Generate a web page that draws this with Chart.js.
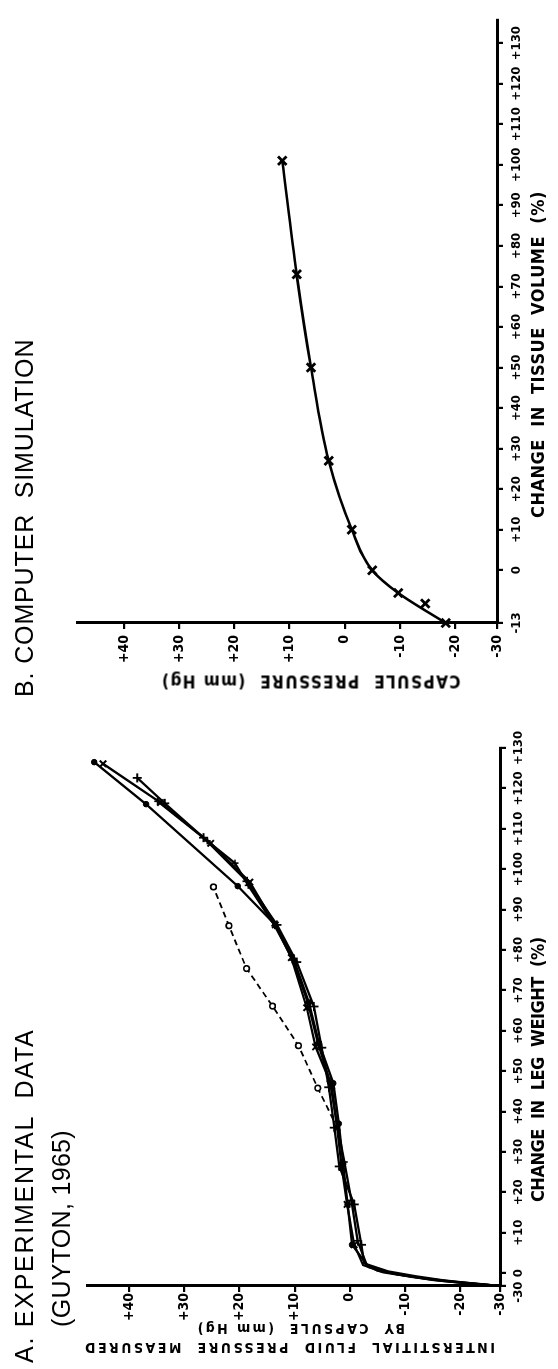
<!DOCTYPE html>
<html>
<head>
<meta charset="utf-8">
<script src="https://cdn.jsdelivr.net/npm/chart.js@4.4.1/dist/chart.umd.min.js"></script>
<style>
  html, body { margin: 0; padding: 0; background: #fff; overflow: hidden; width: 558px; height: 1369px; }
  #land { position: absolute; left: 0; top: 0; width: 1369px; height: 558px;
          transform-origin: 0 0; transform: translateY(1369px) rotate(-90deg); background: #fff; }
  #land canvas { position: absolute; top: 0; }
  .t { position: absolute; white-space: pre; color: #000; }
</style>
</head>
<body>
<div id="land">
  <canvas id="cA" width="690" height="558" style="left:0px;width:690px;height:558px"></canvas>
  <canvas id="cB" width="679" height="558" style="left:690px;width:679px;height:558px"></canvas>
</div>
<script>
// ---------------- text ----------------
const titleA = ['A. EXPERIMENTAL  DATA', '(GUYTON, 1965)'];
const titleB = 'B. COMPUTER  SIMULATION';
const xTitleA = 'CHANGE  IN  LEG  WEIGHT  (%)';
const yTitleA = ['INTERSTITIAL  FLUID  PRESSURE  MEASURED', 'BY  CAPSULE  (mm Hg)'];
const xTitleB = 'CHANGE  IN  TISSUE  VOLUME  (%)';
const yTitleB = 'CAPSULE  PRESSURE  (mm Hg)';

// ---------------- panel A axes (broken at origin: origin tick labelled -30) ----------------
const aXTicks = [-3.2, 0, 10, 20, 30, 40, 50, 60, 70, 80, 90, 100, 110, 120, 130];
const aXLabels = ['-30   ', '0', '+10', '+20', '+30', '+40', '+50', '+60', '+70', '+80', '+90', '+100', '+110', '+120', '+130'];
const aYTicks = [-27.2, -20, -10, 0, 10, 20, 30, 40];
const aYLabels = ['-30', '-20', '-10', '0', '+10', '+20', '+30', '+40'];

// ---------------- panel A data: change in leg weight (%) vs pressure (mm Hg) ----------------
const aCrossV = [-3.2, -2.6, -1.9, -1.0, 0.2, 2.0, 7, 17, 26.4, 36, 46.4, 56, 65.7, 78.1, 86.2, 96.8, 106.4, 116.5, 126.1];
const aCrossP = [-27.2, -22.0, -16.5, -11.5, -6.0, -2.4, -0.8, 0.5, 1.5, 2.3, 3.3, 6.2, 7.8, 10.6, 13.5, 18.1, 25.2, 34.3, 44.7];
const aDotV = [-3.2, -2.7, -2.1, -1.3, -0.3, 1.5, 7, 17, 27, 37, 47, 57, 67, 77, 86.2, 95.8, 116.1, 126.5];
const aDotP = [-27.2, -23.5, -18.5, -13.5, -8.5, -3.4, -0.4, 0.4, 1.2, 2.0, 3.0, 5.6, 7.4, 10.0, 13.5, 20.3, 36.9, 46.3];
const aPlusV = [-3.2, -2.5, -1.7, -0.6, 0.6, 2.5, 7, 17, 26.4, 36, 46, 55.8, 66, 77, 86.2, 97, 107.8, 116.3, 122.6];
const aPlusP = [-27.2, -21.0, -15.0, -10.0, -5.0, -2.6, -2.1, -0.8, 1.9, 2.8, 3.8, 5.1, 6.5, 9.6, 13.2, 18.6, 26.5, 33.5, 38.5];
const aTickV = [-3.2, -2.6, -1.8, -0.8, 0.4, 2.2, 8, 18, 27.5, 37.5, 47.5, 57, 67, 77.5, 86, 96, 101.5, 107, 116.8];
const aTickP = [-27.2, -22.5, -17.0, -12.0, -7.0, -3.0, -1.4, -0.3, 1.0, 2.4, 3.6, 5.8, 7.6, 10.3, 13.6, 18.4, 20.8, 25.8, 34.8];
const aDashV = [38, 45.8, 56.3, 66.1, 75.4, 86, 95.6];
const aDashP = [3.0, 5.8, 9.3, 14.0, 18.7, 21.9, 24.7];

// ---------------- panel B axes ----------------
const bXTicks = [-13, 0, 10, 20, 30, 40, 50, 60, 70, 80, 90, 100, 110, 120, 130];
const bXLabels = ['-13', '0', '+10', '+20', '+30', '+40', '+50', '+60', '+70', '+80', '+90', '+100', '+110', '+120', '+130'];
const bYTicks = [-27.6, -20, -10, 0, 10, 20, 30, 40];
const bYLabels = ['-30', '-20', '-10', '0', '+10', '+20', '+30', '+40'];

// ---------------- panel B data: change in tissue volume (%) vs capsule pressure (mm Hg) ----------------
const bCurveV = [-13, -5.6, 0, 10, 27, 50, 73, 101];
const bCurveP = [-18.3, -9.7, -5.0, -1.3, 2.9, 6.1, 8.7, 11.3];
const bPointV = [-13, -8.2, -5.6, 0, 10, 27, 50, 73, 101];
const bPointP = [-18.3, -14.6, -9.7, -5.0, -1.3, 2.9, 6.1, 8.7, 11.3];

// ---------------- rendering ----------------
const FONT_LABEL = "'Liberation Sans Narrow','DejaVu Sans Condensed','Liberation Sans',Arial,sans-serif";
const FONT_TITLE = "'Liberation Sans',Arial,sans-serif";
const toXY = (xs, ys) => xs.map((x, i) => ({ x: x, y: ys[i] }));

function axis(o) {
  return {
    type: 'linear', position: o.pos, min: o.min, max: o.max,
    afterBuildTicks: s => { s.ticks = o.ticks.map(v => ({ value: v })); },
    afterFit: s => { if (o.fixW) s.width = o.fixW; if (o.fixH) s.height = o.fixH; },
    ticks: {
      autoSkip: false, maxRotation: 0, minRotation: 0, padding: o.pad, color: '#000',
      font: { family: FONT_LABEL, size: o.size, weight: 'bold' },
      callback: (v, i) => o.labels[i]
    },
    grid: { drawOnChartArea: false, drawTicks: true, tickLength: 6, tickWidth: 2.2, tickColor: '#000', color: '#000', lineWidth: 2.2 },
    border: { display: true, color: '#000', width: 3 },
    title: { display: false }
  };
}

function markerRadius(r) {
  return ctx => (ctx.raw && ctx.raw.x >= 5 ? r : 0);
}

const base = { showLine: true, borderColor: '#000', backgroundColor: '#000', pointBorderColor: '#000',
               pointBackgroundColor: '#000', tension: 0, clip: false };

const commonOpts = (padding, scales) => ({
  responsive: false, animation: false, devicePixelRatio: 1, events: [],
  layout: { padding: padding },
  plugins: { legend: { display: false }, tooltip: { enabled: false }, title: { display: false } },
  scales: scales
});

new Chart(document.getElementById('cA'), {
  type: 'scatter',
  data: {
    datasets: [
      Object.assign({}, base, { data: toXY(aDashV, aDashP), borderWidth: 1.8, borderDash: [6, 4],
        pointStyle: 'circle', pointRadius: ctx => (ctx.dataIndex === 0 ? 0 : 2.8),
        pointBackgroundColor: '#fff', pointBorderWidth: 1.6 }),
      Object.assign({}, base, { data: toXY(aDotV, aDotP), borderWidth: 2.3,
        pointStyle: 'circle', pointRadius: markerRadius(2.8), pointBorderWidth: 1 }),
      Object.assign({}, base, { data: toXY(aCrossV, aCrossP), borderWidth: 2.3,
        pointStyle: 'crossRot', pointRadius: markerRadius(4.5), pointBorderWidth: 2 }),
      Object.assign({}, base, { data: toXY(aPlusV, aPlusP), borderWidth: 2.3,
        pointStyle: 'cross', pointRadius: markerRadius(4.5), pointBorderWidth: 1.8 }),
      Object.assign({}, base, { data: toXY(aTickV, aTickP), borderWidth: 2.3,
        pointStyle: 'cross', pointRadius: markerRadius(3.5), pointBorderWidth: 1.6 })
    ]
  },
  options: commonOpts({ left: 0, top: 87, right: 69, bottom: 0 }, {
    x: axis({ pos: 'bottom', min: -3.2, max: 130, ticks: aXTicks, labels: aXLabels, size: 13, pad: 5, fixH: 58 }),
    y: axis({ pos: 'left', min: -27.2, max: 47.6, ticks: aYTicks, labels: aYLabels, size: 14, pad: 1, fixW: 83 })
  })
});

new Chart(document.getElementById('cB'), {
  type: 'scatter',
  data: {
    datasets: [
      Object.assign({}, base, { data: toXY(bCurveV, bCurveP), borderWidth: 2.6, pointRadius: 0,
        cubicInterpolationMode: 'monotone' }),
      Object.assign({}, base, { data: toXY(bPointV, bPointP), showLine: false,
        pointStyle: 'crossRot', pointRadius: 6, pointBorderWidth: 2.8 })
    ]
  },
  options: commonOpts({ left: 0, top: 77, right: 20, bottom: 0 }, {
    x: axis({ pos: 'bottom', min: -13, max: 135.7, ticks: bXTicks, labels: bXLabels, size: 13, pad: 6, fixH: 61 }),
    y: axis({ pos: 'left', min: -27.6, max: 48.5, ticks: bYTicks, labels: bYLabels, size: 14, pad: 6, fixW: 56 })
  })
});

// ---------------- titles as real text (landscape coordinates) ----------------
function addText(txt, o) {
  const land = document.getElementById('land');
  const d = document.createElement('div');
  d.className = 't';
  d.style.fontFamily = o.family;
  d.style.fontSize = o.size + 'px';
  d.style.fontWeight = o.weight || 400;
  d.style.lineHeight = o.size + 'px';
  const s = document.createElement('span');
  s.textContent = txt;
  d.appendChild(s);
  land.appendChild(d);
  const n = Array.from(txt).length;
  const w0 = s.offsetWidth;
  const ls = n > 1 ? (o.len - w0) / (n - 1) : 0;
  d.style.letterSpacing = ls + 'px';
  const wb = s.offsetWidth;
  d.style.width = wb + 'px';
  d.style.height = o.size + 'px';
  if (o.rot) {
    d.style.left = (o.xc - wb / 2) + 'px';
    d.style.top = (o.yb - wb / 2 - o.size / 2) + 'px';
    d.style.transform = 'rotate(-90deg)';
  } else {
    d.style.left = o.x + 'px';
    d.style.top = (o.capTop - 0.13 * o.size) + 'px';
  }
}

addText(titleA[0], { family: FONT_TITLE, size: 25, x: 6, capTop: 15, len: 333 });
addText(titleA[1], { family: FONT_TITLE, size: 25, x: 42, capTop: 52, len: 197 });
addText(titleB, { family: FONT_TITLE, size: 25, x: 672, capTop: 15, len: 357 });
addText(xTitleA, { family: FONT_LABEL, weight: 700, size: 18, x: 167, capTop: 531, len: 265 });
addText(xTitleB, { family: FONT_LABEL, weight: 700, size: 18, x: 851, capTop: 531, len: 326 });
addText(yTitleA[0], { family: FONT_LABEL, weight: 700, size: 14, rot: true, xc: 21, yb: 495, len: 410 });
addText(yTitleA[1], { family: FONT_LABEL, weight: 700, size: 14, rot: true, xc: 40, yb: 405, len: 207 });
addText(yTitleB, { family: FONT_LABEL, weight: 700, size: 17, rot: true, xc: 688, yb: 460, len: 298 });
</script>
</body>
</html>
